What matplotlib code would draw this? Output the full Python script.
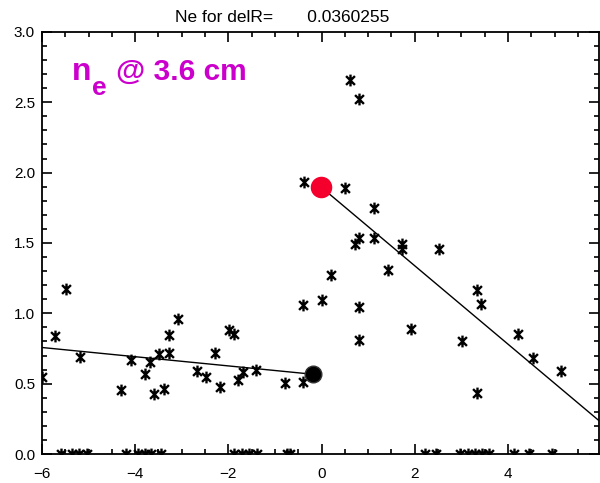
import matplotlib
matplotlib.use("Agg")
import matplotlib.pyplot as plt
from matplotlib.path import Path
from matplotlib.ticker import MultipleLocator

# scatter points (delta R, ne)
x_pts = [-6.0, -5.72, -5.49, -5.19, -4.30, -4.09, -3.80, -3.69, -3.59, -3.48,
         -3.39, -3.27, -3.27, -3.08, -2.68, -2.48, -2.29, -2.19, -1.98, -1.88,
         -1.79, -1.68, -1.40, -0.79, -0.40, -0.40, -0.385, 0.007, 0.207, 0.513,
         0.613, 0.72, 0.81, 0.81, 0.81, 0.81, 1.13, 1.13, 1.42, 1.72,
         1.72, 1.93, 2.52, 3.02, 3.33, 3.33, 3.43, 4.22, 4.53, 5.13]
y_pts = [0.55, 0.84, 1.175, 0.69, 0.454, 0.667, 0.567, 0.655, 0.43, 0.714,
         0.459, 0.844, 0.721, 0.957, 0.59, 0.544, 0.72, 0.473, 0.879, 0.851,
         0.525, 0.584, 0.596, 0.506, 0.513, 1.057, 1.93, 1.092, 1.27, 1.889,
         2.657, 1.49, 2.52, 1.534, 1.045, 0.813, 1.75, 1.537, 1.305, 1.489,
         1.459, 0.887, 1.454, 0.80, 1.168, 0.435, 1.064, 0.856, 0.679, 0.591]

# points sitting on zero
x_zero = [-5.6, -5.36, -5.2, -5.04, -4.19, -3.95, -3.8, -3.65, -3.45,
          -1.87, -1.7, -1.55, -1.38, -0.75, -0.68,
          2.22, 2.45, 2.98, 3.15, 3.3, 3.45, 3.6, 4.12, 4.45, 4.95]
y_zero = [0.0] * len(x_zero)

# fit lines
fit_in_x = [-6.0, -0.19]
fit_in_y = [0.757, 0.567]
fit_out_x = [-0.02, 5.94]
fit_out_y = [1.90, 0.241]

# edge points
edge_in = (-0.19, 0.567)
edge_out = (-0.02, 1.90)

title = "Ne for delR=       0.0360255"

# IDL-like asterisk
a = 0.75
star = Path([(0, -1), (0, 1), (-a, -a), (a, a), (-a, a), (a, -a)],
            [Path.MOVETO, Path.LINETO, Path.MOVETO, Path.LINETO,
             Path.MOVETO, Path.LINETO])

plt.rcParams['font.family'] = ['Liberation Sans', 'DejaVu Sans']

fig = plt.figure(figsize=(6.0, 4.83), dpi=100)
ax = fig.add_axes([0.07, 0.06, 0.928, 0.874])

ax.plot(fit_in_x, fit_in_y, color='black', lw=1.0)
ax.plot(fit_out_x, fit_out_y, color='black', lw=1.0)
ax.plot(x_pts, y_pts, ls='none', marker=star, ms=8.5, mew=1.7,
        color='black', mec='black')
ax.plot(x_zero, y_zero, ls='none', marker=star, ms=8.5, mew=1.7,
        color='black', mec='black')
ax.plot(*edge_in, marker='o', ms=12, color='black', mec='#333333', mew=1)
ax.plot(*edge_out, marker='o', ms=14.5, color='#F5002D', mec='#F5002D')

ax.set_xlim(-6, 5.95)
ax.set_ylim(0, 3.0)
ax.xaxis.set_major_locator(MultipleLocator(2))
ax.xaxis.set_minor_locator(MultipleLocator(0.5))
ax.yaxis.set_major_locator(MultipleLocator(0.5))
ax.yaxis.set_minor_locator(MultipleLocator(0.1))
ax.yaxis.set_major_formatter(plt.FormatStrFormatter('%.1f'))
ax.tick_params(which='both', direction='in', top=True, right=True,
               labelsize=11, width=1.2)
ax.tick_params(which='major', length=7)
ax.tick_params(which='minor', length=3.5)
ax.tick_params(axis='x', pad=9)
ax.tick_params(axis='y', pad=5)
for sp in ax.spines.values():
    sp.set_linewidth(1.3)

fig.text(175 / 600, 1 - 22 / 483, title, fontsize=12.5, ha='left',
         va='baseline')

# n_e @ 3.6 cm label
mag = '#CC00CC'
fig.text(72 / 600, 1 - 80 / 483, 'n', fontsize=23, fontweight='bold',
         color=mag, va='baseline')
fig.text(92 / 600, 1 - 95 / 483, 'e', fontsize=19, fontweight='bold',
         color=mag, va='baseline')
fig.text(116 / 600, 1 - 80 / 483, '@ 3.6 cm', fontsize=21.5,
         fontweight='bold', color=mag, va='baseline')

fig.savefig('out.png', dpi=100)
